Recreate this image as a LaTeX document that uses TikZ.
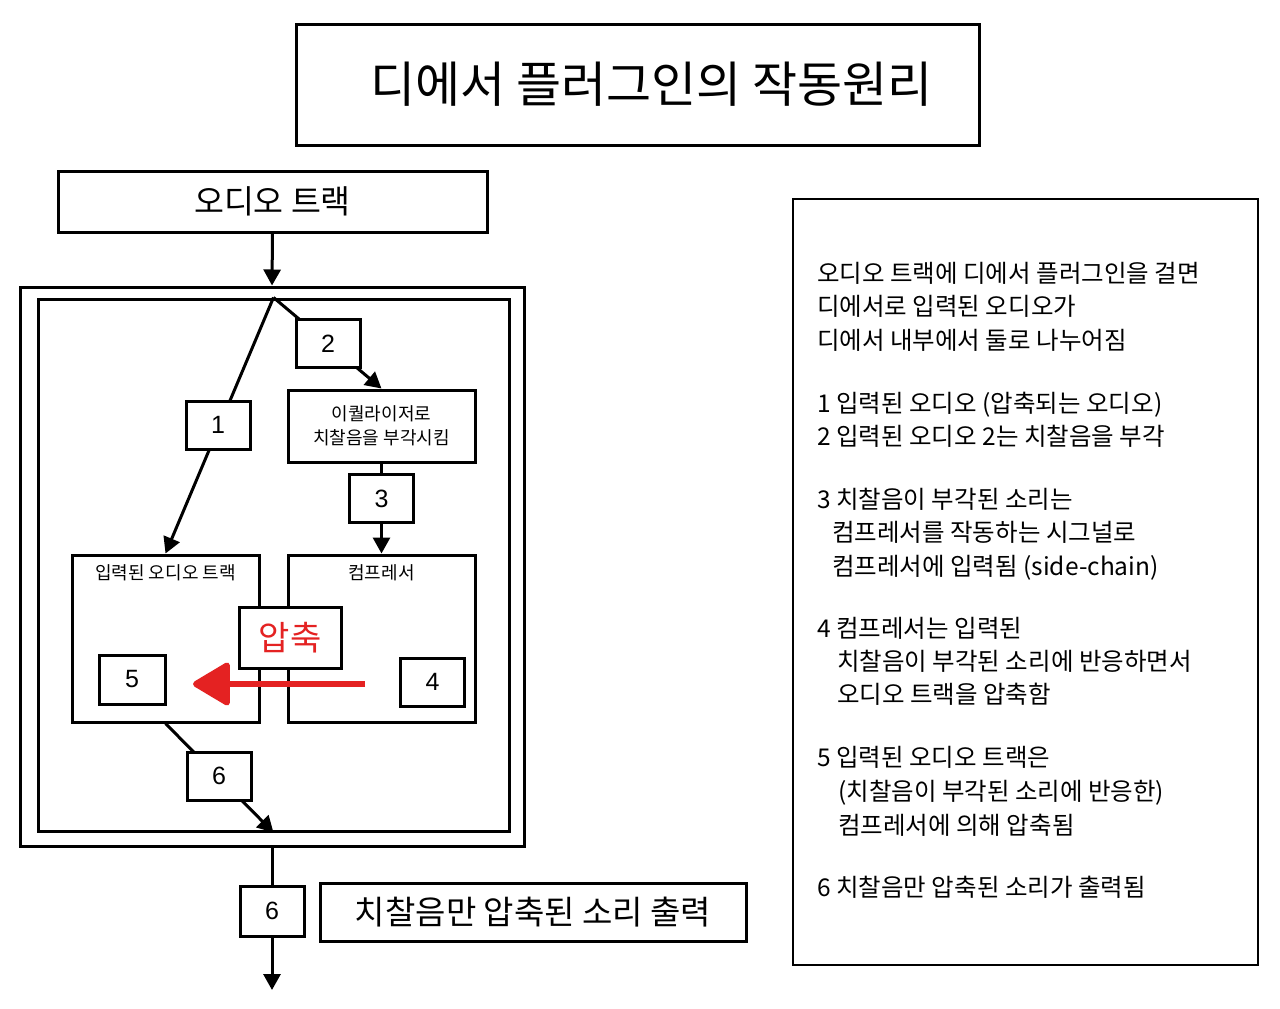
\documentclass[tikz,border=0pt]{standalone}
\usepackage{fontspec}
\setmainfont{Noto Sans CJK KR}
\newfontfamily\numfont{Liberation Sans}
\usetikzlibrary{arrows.meta,backgrounds}
\definecolor{redarr}{RGB}{228,34,34}
\begin{document}
\begin{tikzpicture}[x=1pt,y=-1pt,
  box/.style={draw, fill=white, inner sep=0pt, line width=3pt},
  frame/.style={draw, inner sep=0pt, line width=3pt},
  num/.style={box, minimum width=64pt, minimum height=48pt, font=\numfont\fontsize{25}{25}\selectfont},
  small/.style={font=\fontsize{18}{25}\selectfont, inner sep=0pt},
  conn/.style={line width=3pt},
  arr/.style={conn, -{Triangle[length=16pt,width=17pt]}},
  rt/.style={anchor=base west, font=\fontsize{24.5}{24.5}\selectfont, inner sep=0pt}]
\useasboundingbox (0,0) rectangle (1280,1009);

% title
\node[box, minimum width=683pt, minimum height=121pt, font=\fontsize{49}{49}\selectfont] (title) at (637.5,84.5) {\hspace*{28pt}디에서 플러그인의 작동원리};

% audio track
\node[box, minimum width=429pt, minimum height=61pt, font=\fontsize{32.5}{32.5}\selectfont] (track) at (272.5,201.5) {오디오 트랙};

% frames
\node[frame, minimum width=504pt, minimum height=559pt] (outer) at (272,566.5) {};
\node[frame, minimum width=471pt, minimum height=532pt] (inner) at (273.5,565) {};

% inner blocks
\node[box, minimum width=187pt, minimum height=167pt] (intrack) at (165.5,638.5) {};
\node[box, minimum width=187pt, minimum height=167pt] (comp) at (381.5,638.5) {};
\node[small] (intracklbl) at (165.5,573) {입력된 오디오 트랙};
\node[small] (complbl) at (381.5,573) {컴프레서};

\node[box, minimum width=187pt, minimum height=72pt, align=center, font=\fontsize{18}{23.5}\selectfont] (eq) at (381.5,426) {이퀄라이저로\\치찰음을 부각시킴};

\node[num] (b1) at (218,425) {1};
\node[num] (b2) at (328,343.5) {2};
\node[num] (b3) at (381.5,498.5) {3};
\node[num, minimum width=66pt, minimum height=49pt] (b5) at (132,679.5) {5};
\node[num] (b4) at (432.5,682) {4};

% red compression arrow
\coordinate (ra) at (365,684);
\coordinate (rb) at (193,684);
\draw[redarr, line width=6pt, -{Triangle[length=40pt,width=46pt,round]}] (ra) -- (rb);

\node[box, minimum width=102pt, minimum height=61pt, text=redarr, font=\fontsize{34}{34}\selectfont] (press) at (290,637.5) {압축};

\node[num] (b6a) at (219,776) {6};
\node[num, minimum height=50pt] (b6b) at (272,911) {6};
\node[box, minimum width=426pt, minimum height=58pt, font=\fontsize{33}{33}\selectfont] (outbox) at (533,912) {치찰음만 압축된 소리 출력};

\coordinate (endp) at (272,990);

% connectors (behind boxes)
\begin{pgfonlayer}{background}
\fill[white] (0,0) rectangle (1280,1009);
\draw[arr] (track.south) -- (outer.north);
\draw[arr] (inner.north) -- (intrack.north);
\draw[arr] (inner.north) -- (eq.north);
\draw[arr] (eq.south) -- (comp.north);
\draw[arr] (intrack.south) -- (inner.south);
\draw[arr] (outer.south) -- (endp);
\end{pgfonlayer}

% explanation box
\node[draw, line width=2.5pt, inner sep=0pt, minimum width=465pt, minimum height=766pt] (expl) at (1025.5,582) {};
\node[rt] (t1) at (817,282) {오디오 트랙에 디에서 플러그인을 걸면};
\node[rt] (t2) at (817,315) {디에서로 입력된 오디오가};
\node[rt] (t3) at (817,349) {디에서 내부에서 둘로 나누어짐};
\node[rt] (t4) at (817,412) {1 입력된 오디오 (압축되는 오디오)};
\node[rt] (t5) at (817,445) {2 입력된 오디오 2는 치찰음을 부각};
\node[rt] (t6) at (817,508) {3 치찰음이 부각된 소리는};
\node[rt] (t7) at (832,541) {컴프레서를 작동하는 시그널로};
\node[rt] (t8) at (832,575) {컴프레서에 입력됨 (side-chain)};
\node[rt] (t9) at (817,637) {4 컴프레서는 입력된};
\node[rt] (t10) at (837,670) {치찰음이 부각된 소리에 반응하면서};
\node[rt] (t11) at (837,703) {오디오 트랙을 압축함};
\node[rt] (t12) at (817,766) {5 입력된 오디오 트랙은};
\node[rt] (t13) at (838,800) {(치찰음이 부각된 소리에 반응한)};
\node[rt] (t14) at (838,834) {컴프레서에 의해 압축됨};
\node[rt] (t15) at (817,896) {6 치찰음만 압축된 소리가 출력됨};
\end{tikzpicture}
\end{document}
